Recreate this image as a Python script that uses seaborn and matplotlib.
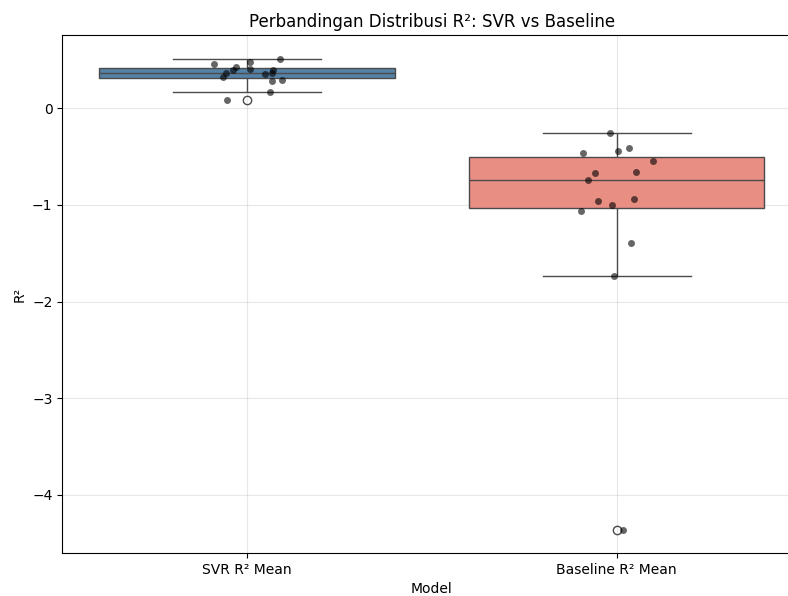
import numpy as np
import pandas as pd
import matplotlib
matplotlib.use("Agg")
import matplotlib.pyplot as plt
import seaborn as sns

categories = ["SVR R² Mean", "Baseline R² Mean"]
svr_r2 = [0.455, 0.393, 0.37, 0.324, 0.427, 0.296, 0.279, 0.169, 0.083,
          0.358, 0.393, 0.41, 0.478, 0.513, 0.369]
baseline_r2 = [-0.255, -0.413, -0.465, -0.444, -0.55, -0.657, -0.668, -0.744,
               -0.961, -1.002, -0.943, -1.06, -1.39, -1.738, -4.36]
palette = ["steelblue", "salmon"]

df = pd.DataFrame({
    "Model": [categories[0]] * len(svr_r2) + [categories[1]] * len(baseline_r2),
    "R2": svr_r2 + baseline_r2,
})

# choose a jitter seed whose random offsets resemble the reference layout
targets = {8: -0.43, 13: 0.65, 15: -0.16, 27: 0.46, 28: -0.33, 29: 0.08}
best_seed, best_err = 0, 1e9
for s in range(5000):
    r = np.random.RandomState(s).uniform(-1, 1, 30)
    err = sum((r[i] - t) ** 2 for i, t in targets.items())
    if err < best_err:
        best_seed, best_err = s, err
np.random.seed(best_seed)

fig, ax = plt.subplots(figsize=(7.88, 5.96), dpi=100)
fig.subplots_adjust(left=0.079, right=1.017, top=0.941, bottom=0.072)

sns.boxplot(data=df, x="Model", y="R2", hue="Model", palette=palette,
            legend=False, ax=ax, zorder=2)
sns.stripplot(data=df, x="Model", y="R2", color="black", alpha=0.6,
              size=5, jitter=True, ax=ax, zorder=3)

ax.grid(True, alpha=0.3, zorder=0)
ax.set_axisbelow(True)
ax.set_title("Perbandingan Distribusi R²: SVR vs Baseline", fontsize=12)
ax.set_xlabel("Model")
ax.set_ylabel("R²")

fig.savefig("out.png", dpi=100)
